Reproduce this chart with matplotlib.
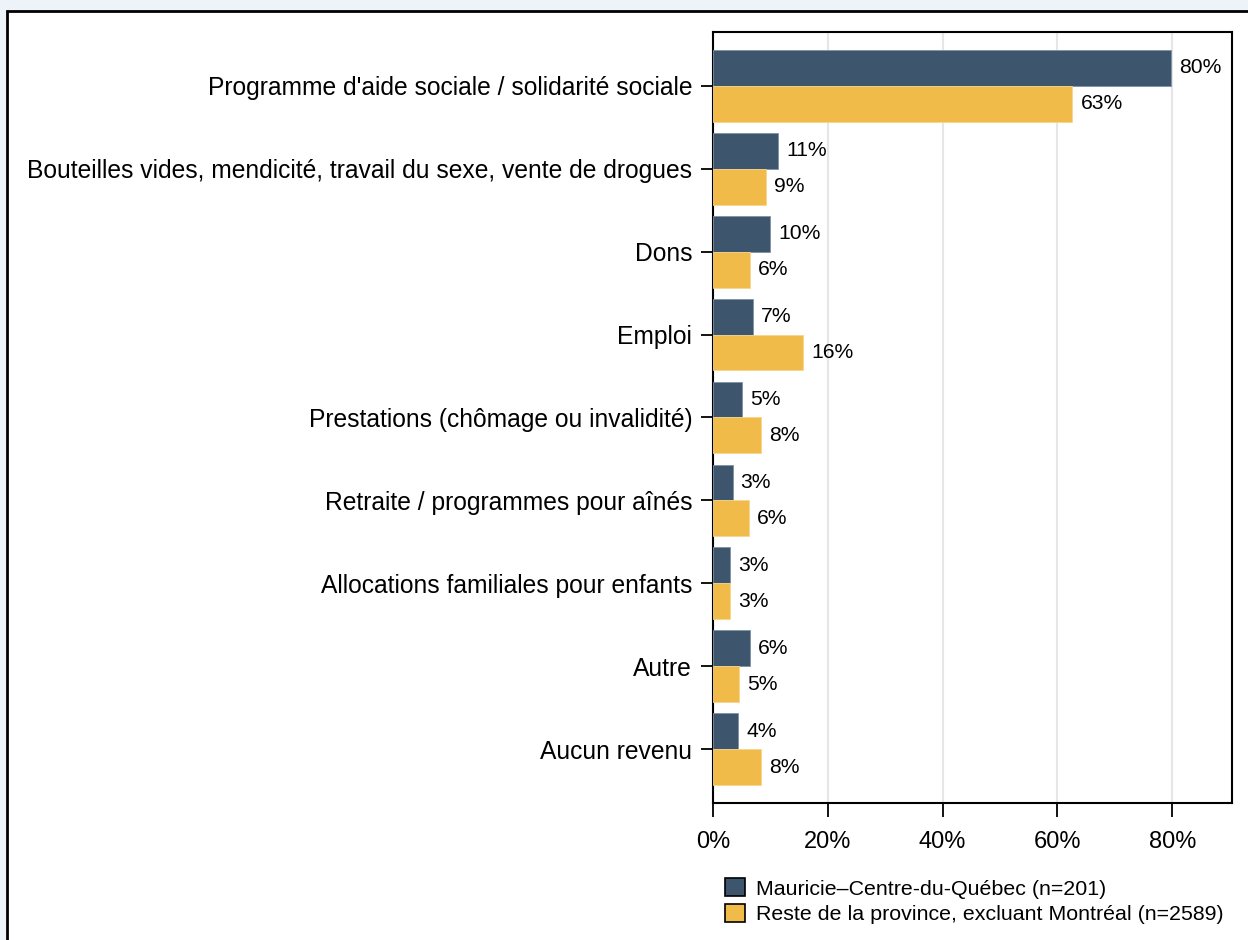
import numpy as np
import matplotlib
matplotlib.use("Agg")
from matplotlib import pyplot as plt
from matplotlib.patches import Patch, Rectangle
from matplotlib.ticker import FuncFormatter

# data (percent)
categories = ["Programme d'aide sociale / solidarité sociale",
              "Bouteilles vides, mendicité, travail du sexe, vente de drogues",
              "Dons",
              "Emploi",
              "Prestations (chômage ou invalidité)",
              "Retraite / programmes pour aînés",
              "Allocations familiales pour enfants",
              "Autre",
              "Aucun revenu"]
mauricie = [79.8, 11.4, 10.0, 7.0, 5.0, 3.4, 3.0, 6.4, 4.4]
reste = [62.6, 9.2, 6.4, 15.7, 8.4, 6.3, 2.9, 4.6, 8.3]
series_names = ["Mauricie\u2013Centre-du-Québec (n=201)",
                "Reste de la province, excluant Montréal (n=2589)"]

blue = "#3d566e"
gold = "#f0bb48"

plt.rcParams["font.family"] = ["Liberation Sans", "DejaVu Sans"]

fig = plt.figure(figsize=(12.48, 9.40), dpi=100)
fig.patch.set_facecolor("#eef3f9")
# white panel with black frame
frame = Rectangle((7 / 1248, -0.05), 1.1, 1 - 11 / 940 + 0.05,
                  transform=fig.transFigure, facecolor="white",
                  edgecolor="black", linewidth=2, zorder=-5)
fig.patches.append(frame)

ax = fig.add_axes([713 / 1248, 1 - 803 / 940, (1232 - 713) / 1248, (803 - 32) / 940])
ax.set_zorder(2)
ax.set_facecolor("white")

y = np.arange(len(categories))
h = 0.433
ax.barh(y - h / 2, mauricie, height=h, color=blue, edgecolor="#7f93a6", linewidth=0.6, zorder=3)
ax.barh(y + h / 2, reste, height=h, color=gold, edgecolor="#f7d58e", linewidth=0.6, zorder=3)

for yi, v in zip(y, mauricie):
    ax.text(v + 1.4, yi - h / 2, f"{v:.0f}%", va="center", ha="left", fontsize=15.2)
for yi, v in zip(y, reste):
    ax.text(v + 1.4, yi + h / 2, f"{v:.0f}%", va="center", ha="left", fontsize=15.2)

ax.set_xlim(0, 90.4)
ax.set_ylim(8.65, -0.65)
ax.set_xticks([0, 20, 40, 60, 80])
ax.xaxis.set_major_formatter(FuncFormatter(lambda v, p: f"{v:.0f}%"))
ax.set_yticks(y)
ax.set_yticklabels(categories)
ax.tick_params(axis="y", labelsize=17.7, length=9, width=1.3, pad=6)
ax.tick_params(axis="x", labelsize=17, length=10, width=1.3, pad=10)
ax.grid(axis="x", color="#e6e6e6", linewidth=1.5, zorder=0)
ax.set_axisbelow(True)
for s in ax.spines.values():
    s.set_linewidth(1.5)
    s.set_color("black")

handles = [Patch(facecolor=blue, edgecolor="black", linewidth=1.2),
           Patch(facecolor=gold, edgecolor="black", linewidth=1.2)]
fig.legend(handles, series_names, loc="upper left",
           bbox_to_anchor=(710 / 1248, 1 - 863 / 940), frameon=False,
           fontsize=15.4, handlelength=0.95, handleheight=0.95,
           handletextpad=0.5, labelspacing=0.25, borderpad=0.2)

fig.savefig("out.png", dpi=100, facecolor=fig.get_facecolor())
